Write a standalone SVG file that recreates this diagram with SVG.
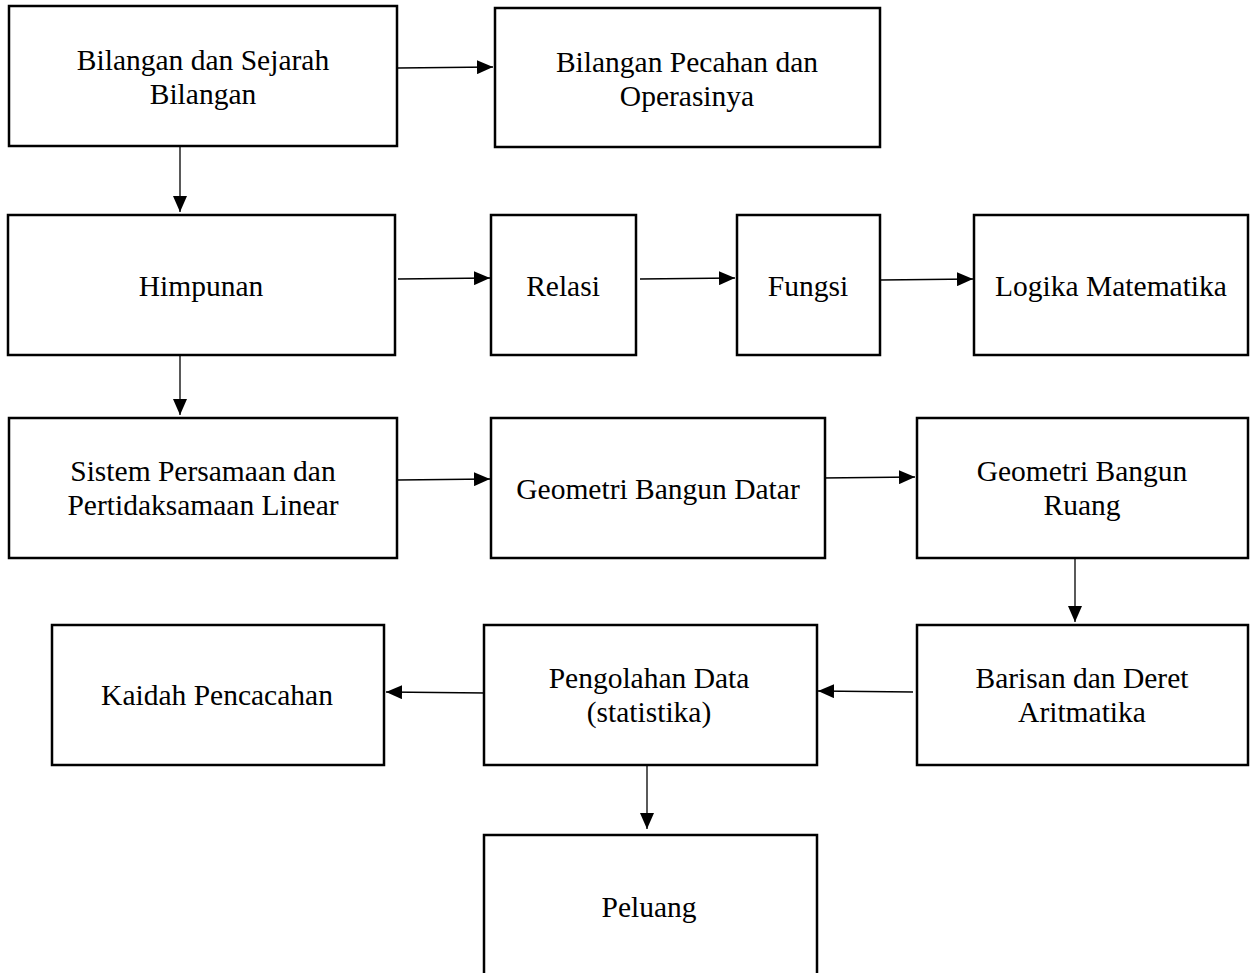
<svg xmlns="http://www.w3.org/2000/svg" width="1252" height="973" viewBox="0 0 1252 973">
<style>
.box{fill:#fff;stroke:#000;stroke-width:2.5}
.t{font-family:"Liberation Serif","Times New Roman",serif;font-size:29.5px;fill:#000;text-anchor:middle}
.c{stroke:#000;stroke-width:1.3;fill:none;marker-end:url(#ah)}
</style>
<defs>
<marker id="ah" viewBox="0 0 16 14" refX="16" refY="7" markerWidth="16" markerHeight="14" markerUnits="userSpaceOnUse" orient="auto">
<path d="M0,0 L16,7 L0,14 z" fill="#000"/>
</marker>
</defs>
<rect width="1252" height="973" fill="#fff"/>
<g id="connectors">
<line class="c" x1="398" y1="68" x2="493" y2="67"/>
<line class="c" x1="180" y1="147" x2="180" y2="212"/>
<line class="c" x1="398" y1="279" x2="490" y2="278"/>
<line class="c" x1="640" y1="279" x2="735" y2="278"/>
<line class="c" x1="881" y1="280" x2="973" y2="279"/>
<line class="c" x1="180" y1="350" x2="180" y2="415"/>
<line class="c" x1="398" y1="480" x2="490" y2="479"/>
<line class="c" x1="822" y1="478" x2="915" y2="477"/>
<line class="c" x1="1075" y1="559" x2="1075" y2="622"/>
<line class="c" x1="913" y1="692" x2="818" y2="691"/>
<line class="c" x1="486" y1="693" x2="386" y2="692"/>
<line class="c" x1="647" y1="766" x2="647" y2="829"/>
</g>
<g id="n1"><rect class="box" x="9" y="6" width="388" height="140"/><text class="t" x="203" y="70">Bilangan dan Sejarah</text><text class="t" x="203" y="104">Bilangan</text></g>
<g id="n2"><rect class="box" x="495" y="8" width="385" height="139"/><text class="t" x="687" y="72">Bilangan Pecahan dan</text><text class="t" x="687" y="106">Operasinya</text></g>
<g id="n3"><rect class="box" x="8" y="215" width="387" height="140"/><text class="t" x="201" y="296">Himpunan</text></g>
<g id="n4"><rect class="box" x="491" y="215" width="145" height="140"/><text class="t" x="563" y="296">Relasi</text></g>
<g id="n5"><rect class="box" x="737" y="215" width="143" height="140"/><text class="t" x="808" y="296">Fungsi</text></g>
<g id="n6"><rect class="box" x="974" y="215" width="274" height="140"/><text class="t" x="1111" y="296">Logika Matematika</text></g>
<g id="n7"><rect class="box" x="9" y="418" width="388" height="140"/><text class="t" x="203" y="481">Sistem Persamaan dan</text><text class="t" x="203" y="515">Pertidaksamaan Linear</text></g>
<g id="n8"><rect class="box" x="491" y="418" width="334" height="140"/><text class="t" x="658" y="499">Geometri Bangun Datar</text></g>
<g id="n9"><rect class="box" x="917" y="418" width="331" height="140"/><text class="t" x="1082" y="481">Geometri Bangun</text><text class="t" x="1082" y="515">Ruang</text></g>
<g id="n10"><rect class="box" x="52" y="625" width="332" height="140"/><text class="t" x="217" y="705">Kaidah Pencacahan</text></g>
<g id="n11"><rect class="box" x="484" y="625" width="333" height="140"/><text class="t" x="649" y="688">Pengolahan Data</text><text class="t" x="649" y="722">(statistika)</text></g>
<g id="n12"><rect class="box" x="917" y="625" width="331" height="140"/><text class="t" x="1082" y="688">Barisan dan Deret</text><text class="t" x="1082" y="722">Aritmatika</text></g>
<g id="n13"><rect class="box" x="484" y="835" width="333" height="142"/><text class="t" x="649" y="917">Peluang</text></g>
</svg>
